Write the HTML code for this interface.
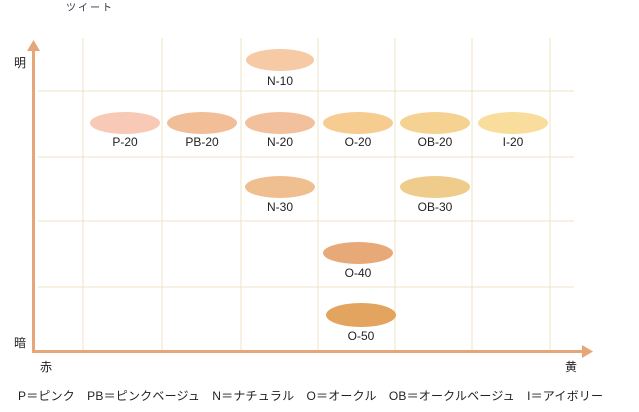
<!DOCTYPE html>
<html><head><meta charset="utf-8"><style>
html,body{margin:0;padding:0;background:#fff;width:639px;height:412px;overflow:hidden}
svg text{font-family:"Liberation Sans","Noto Sans CJK JP",sans-serif}
</style></head><body>
<svg width="639" height="412" viewBox="0 0 639 412" xmlns="http://www.w3.org/2000/svg">
<text x="66" y="11" font-size="10" fill="#334" textLength="46" lengthAdjust="spacing">ツイート</text>
<g stroke="#efe3c4" stroke-width="1">
<line x1="83" y1="38" x2="83" y2="351"/>
<line x1="162" y1="38" x2="162" y2="351"/>
<line x1="241" y1="38" x2="241" y2="351"/>
<line x1="318" y1="38" x2="318" y2="351"/>
<line x1="395" y1="38" x2="395" y2="351"/>
<line x1="472" y1="38" x2="472" y2="351"/>
<line x1="550" y1="38" x2="550" y2="351"/>
<line x1="38" y1="91" x2="574" y2="91"/>
<line x1="38" y1="157" x2="574" y2="157"/>
<line x1="38" y1="221" x2="574" y2="221"/>
<line x1="38" y1="287" x2="574" y2="287"/>
</g>
<g fill="#e6a678">
<rect x="32" y="48" width="3" height="305"/>
<polygon points="33.5,40 27,51 40,51"/>
<rect x="33" y="350" width="550" height="3"/>
<polygon points="593,351.5 582,345 582,358"/>
</g>
<text x="14" y="67" font-size="12" fill="#222">明</text>
<text x="14" y="347" font-size="12" fill="#222">暗</text>
<text x="40" y="371" font-size="12" fill="#222">赤</text>
<text x="565" y="371" font-size="12" fill="#222">黄</text>
<g font-size="12" fill="#222" text-anchor="middle">
<ellipse cx="280" cy="60" rx="34" ry="11" fill="#f6caa5"/><text x="280" y="85">N-10</text>
<ellipse cx="125" cy="123" rx="35" ry="11" fill="#f8c9b6"/><text x="125" y="146">P-20</text>
<ellipse cx="202" cy="123" rx="35" ry="11" fill="#f1be98"/><text x="202" y="146">PB-20</text>
<ellipse cx="280" cy="123" rx="35" ry="11" fill="#f2c09c"/><text x="280" y="146">N-20</text>
<ellipse cx="358" cy="123" rx="35" ry="11" fill="#f7cc90"/><text x="358" y="146">O-20</text>
<ellipse cx="435" cy="123" rx="35" ry="11" fill="#f6d292"/><text x="435" y="146">OB-20</text>
<ellipse cx="513" cy="123" rx="35" ry="11" fill="#f9dd9c"/><text x="513" y="146">I-20</text>
<ellipse cx="280" cy="187" rx="35" ry="11" fill="#f0bf90"/><text x="280" y="211">N-30</text>
<ellipse cx="435" cy="187" rx="35" ry="11" fill="#efcb8c"/><text x="435" y="211">OB-30</text>
<ellipse cx="358" cy="253" rx="35" ry="11" fill="#e8a978"/><text x="358" y="277">O-40</text>
<ellipse cx="361" cy="315" rx="35" ry="12" fill="#e2a45e"/><text x="361" y="340">O-50</text>
</g>
<text x="18" y="400" font-size="12" fill="#222" textLength="585" lengthAdjust="spacing" xml:space="preserve">P＝ピンク　PB＝ピンクベージュ　N＝ナチュラル　O＝オークル　OB＝オークルベージュ　I＝アイボリー</text>
</svg>
</body></html>
